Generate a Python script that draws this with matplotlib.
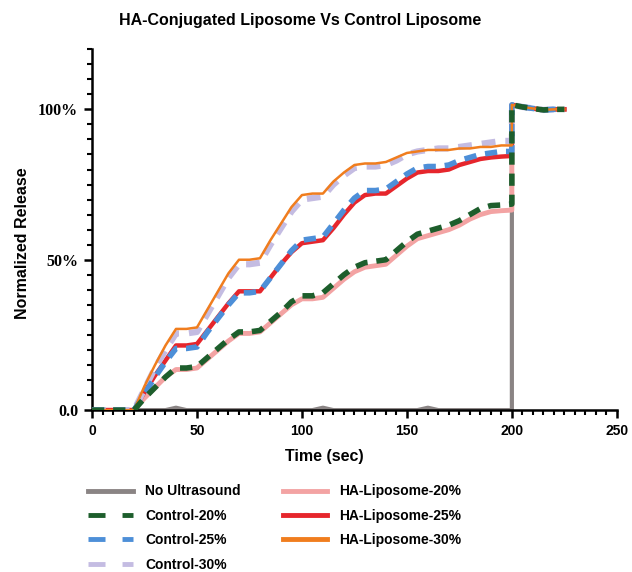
import matplotlib.pyplot as plt
from matplotlib.ticker import MultipleLocator
from matplotlib.lines import Line2D

# time grid: readings every 5 s up to 200 s, then the post-ultrasound jump
time = list(range(0, 205, 5)) + [200, 205, 210, 215, 220, 225]

post = [101.5, 100.8, 100.3, 99.8, 100.0, 100.0]

no_us = [0, 0, 0, 0, 0, 0, 0, 0, 0.8, 0, 0, 0, 0, 0, 0, 0, 0, 0, 0, 0,
         0, 0, 0.8, 0, 0, 0, 0, 0, 0, 0, 0, 0, 0.8, 0, 0, 0, 0, 0, 0, 0, 0] + post

control_20 = [0, 0, 0, 0, 0, 4, 7.5, 11, 14, 14, 14.5, 17.5, 20.5, 23.5, 26, 26, 26.5,
              29.5, 32.5, 36, 38, 38, 39, 42, 45, 47.5, 49, 49.5, 50, 53, 56, 58.5,
              59.5, 60.5, 61.5, 63, 65, 67, 68, 68.2, 68.5] + post
control_25 = [0, 0, 0, 0, 0, 5.5, 11, 16, 20.5, 20.5, 21, 26, 30.5, 35, 39, 39, 39.5,
              44, 48.5, 53, 56.5, 57, 57.5, 62, 66.5, 70.5, 73, 73, 73.5, 76, 78.5, 80.5,
              81, 81, 81.5, 83, 84, 85, 85.5, 86, 86] + post
control_30 = [0, 0, 0, 0, 0, 7, 14, 20, 25.5, 25.5, 26, 32, 38, 44, 48.5, 48.5, 49,
              55, 60.5, 66, 70, 70.5, 71, 75, 78, 80.5, 81, 81, 81.5, 83, 85, 86,
              86.5, 87, 87, 87.5, 88, 88.5, 89, 89.5, 89.5] + post

ha_20 = [0, 0, 0, 0, 0, 4, 7.5, 11, 13.5, 13.5, 14, 17, 20, 23, 25.5, 25.5, 26,
         29, 32, 35, 37, 37, 37.5, 40.5, 43.5, 46, 47.5, 48, 48.5, 51.5, 54.5, 57,
         58, 59, 60, 61.5, 63.5, 65, 66, 66.3, 66.5] + post
ha_25 = [0, 0, 0, 0, 0, 6, 11.5, 16.5, 21.5, 21.5, 22, 26.5, 31, 35.5, 39.5, 39.5, 39.5,
         44, 48.5, 52.5, 55.5, 56, 56.5, 60.5, 65, 69, 71.5, 72, 72, 74.5, 77, 79,
         79.5, 79.5, 80, 81.5, 82.5, 83.5, 84, 84.3, 84.5] + post
ha_30 = [0, 0, 0, 0, 0, 8, 15, 21.5, 27, 27, 27.5, 33.5, 39.5, 45.5, 50, 50, 50.5,
         56.5, 62, 67.5, 71.5, 72, 72, 76, 79, 81.5, 82, 82, 82.5, 84, 85.5, 86,
         86.5, 86.5, 86.5, 87, 87, 87.5, 87.5, 88, 88] + post

fig = plt.figure(figsize=(6.32, 5.72), dpi=100)
ax = fig.add_axes([0.1456, 0.283, 0.8304, 0.631])

grey = '#8a8484'
green = '#1d5e2c'
blue = '#4d8fd8'
lav = '#c4bce2'
pink = '#f3a3a3'
red = '#e6262c'
orange = '#f07d1e'

dash = (0, (2.2, 1.6))
ax.plot(time, no_us, color=grey, lw=3, zorder=1)
ax.plot(time, ha_20, color=pink, lw=3.5, zorder=2)
ax.plot(time, ha_25, color=red, lw=3.2, zorder=2)
ax.plot(time, control_30, color=lav, lw=4.5, ls=dash, zorder=3)
ax.plot(time, ha_30, color=orange, lw=1.8, zorder=4)
ax.plot(time, control_25, color=blue, lw=4, ls=dash, zorder=3)
ax.plot(time, control_20, color=green, lw=4, ls=dash, zorder=5)

ax.set_xlim(0, 250)
ax.set_ylim(0, 120)
ax.xaxis.set_major_locator(MultipleLocator(50))
ax.xaxis.set_minor_locator(MultipleLocator(5))
ax.set_yticks([0, 50, 100])
ax.yaxis.set_minor_locator(MultipleLocator(5))
ax.set_yticklabels(['0.0', '50%', '100%'], family='Liberation Serif',
                   fontweight='bold', fontsize=11.5)
for lab in ax.get_xticklabels():
    lab.set_family('Liberation Sans')
    lab.set_fontweight('bold')
    lab.set_fontsize(10)

for s in ['top', 'right']:
    ax.spines[s].set_visible(False)
for s in ['left', 'bottom']:
    ax.spines[s].set_linewidth(1.8)
ax.tick_params(which='major', direction='out', length=6, width=1.8, pad=4)
ax.tick_params(which='minor', direction='out', length=3.5, width=1.5)

fig.text(0.475, 0.965, 'HA-Conjugated Liposome Vs Control Liposome', ha='center',
         va='center', family='Liberation Sans', fontweight='bold', fontsize=11.5)
fig.text(0.035, 1 - 243 / 572, 'Normalized Release', rotation=90, ha='center',
         va='center', family='Liberation Sans', fontweight='bold', fontsize=11.5)
fig.text(324 / 632, 1 - 457 / 572, 'Time (sec)', ha='center', va='center',
         family='Liberation Sans', fontweight='bold', fontsize=11.5)

handles = [
    Line2D([], [], color=grey, lw=3.5),
    Line2D([], [], color=green, lw=3.5, ls=(0, (3.5, 3.5))),
    Line2D([], [], color=blue, lw=3.5, ls=(0, (3.5, 3.5))),
    Line2D([], [], color=lav, lw=3.5, ls=(0, (3.5, 3.5))),
    Line2D([], [], color=pink, lw=3.5),
    Line2D([], [], color=red, lw=3.5),
    Line2D([], [], color=orange, lw=3.5),
]
labels = ['No Ultrasound', 'Control-20%', 'Control-25%', 'Control-30%',
          'HA-Liposome-20%', 'HA-Liposome-25%', 'HA-Liposome-30%']
fig.legend(handles, labels, ncol=2, loc='upper left',
           bbox_to_anchor=(0.12, 0.175), frameon=False,
           prop={'family': 'Liberation Sans', 'weight': 'bold', 'size': 10},
           handlelength=3.2, handletextpad=0.9, columnspacing=3.0,
           labelspacing=0.75)

fig.savefig('out.png', dpi=100)
